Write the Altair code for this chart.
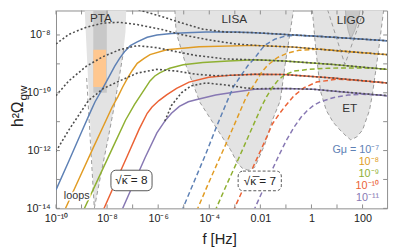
import altair as alt
import pandas as pd

# ---------------- values ----------------
# x = log10(f / Hz), y = log10(h^2 Omega_gw)
x_tick_vals = [-10, -8, -6, -4, -2, 0, 2]
x_tick_labels = ["10⁻¹⁰", "10⁻⁸", "10⁻⁶", "10⁻⁴", "0.01", "1", "100"]
y_tick_vals = [-14, -12, -10, -8]
y_tick_labels = ["10⁻¹⁴", "10⁻¹²", "10⁻¹⁰", "10⁻⁸"]
x_minor = list(range(-10, 3))
y_minor = list(range(-14, -7))

gmu_keys = ["1e-7", "1e-8", "1e-9", "1e-10", "1e-11"]
gmu_texts = ["Gμ = 10⁻⁷", "10⁻⁸", "10⁻⁹", "10⁻¹⁰", "10⁻¹¹"]
gmu_colors = ["#5e81b5", "#e19c24", "#8fb032", "#eb6235", "#8778b3"]
legend_lf = [2.65, 2.65, 2.65, 2.65, 2.65]
legend_lo = [-11.98, -12.41, -12.81, -13.22, -13.63]

# sqrt(kappa) = 8 (solid)
solid_g7 = [(-10.0, -13.36), (-9.5, -12.37), (-9.0, -11.36), (-8.66, -10.68), (-8.47, -10.31),
            (-8.16, -9.83), (-7.89, -9.39), (-7.70, -9.08), (-7.51, -8.81), (-7.32, -8.58),
            (-7.09, -8.37), (-6.82, -8.24), (-6.43, -8.08), (-6.05, -8.00), (-5.48, -7.95),
            (-4.90, -7.92), (-4.13, -7.90), (-2.98, -7.90), (-2.22, -7.92), (-0.68, -8.00),
            (0.85, -8.08), (2.96, -8.20)]
solid_g8 = [(-9.68, -14.1), (-9.12, -13.02), (-8.54, -11.90), (-8.04, -10.95), (-7.81, -10.51),
            (-7.58, -10.14), (-7.39, -9.80), (-7.20, -9.49), (-7.01, -9.22), (-6.82, -8.98),
            (-6.55, -8.81), (-6.32, -8.68), (-5.67, -8.51), (-4.40, -8.41), (-2.22, -8.36),
            (-0.68, -8.42), (1.23, -8.56), (2.96, -8.68)]
solid_g9 = [(-8.94, -14.1), (-8.35, -12.98), (-7.78, -11.90), (-7.28, -10.95), (-6.93, -10.41),
            (-6.55, -9.90), (-6.32, -9.59), (-6.13, -9.42), (-5.94, -9.31), (-5.55, -9.15),
            (-5.02, -9.03), (-4.25, -8.95), (-3.25, -8.90), (-2.22, -8.86), (-1.07, -8.90),
            (0.85, -9.02), (2.96, -9.19)]
solid_g10 = [(-8.17, -14.1), (-7.66, -13.08), (-7.20, -12.17), (-6.74, -11.25), (-6.43, -10.71),
             (-6.24, -10.49), (-5.97, -10.27), (-5.67, -10.07), (-5.28, -9.85), (-4.79, -9.63),
             (-4.02, -9.46), (-3.10, -9.39), (-2.22, -9.36), (-1.07, -9.37), (0.85, -9.49),
             (2.96, -9.66)]
solid_g11 = [(-7.44, -14.1), (-6.93, -13.08), (-6.51, -12.24), (-6.05, -11.39), (-5.74, -10.98),
             (-5.48, -10.71), (-5.17, -10.47), (-4.82, -10.31), (-4.52, -10.24), (-3.75, -10.08),
             (-2.98, -9.97), (-2.22, -9.88), (-1.07, -9.85), (0.08, -9.88), (1.23, -9.97),
             (2.96, -10.10)]

# sqrt(kappa) = 7 (dashed)
dashed_g7 = [(-5.08, -14.1), (-4.52, -12.92), (-4.13, -12.10), (-3.75, -11.25), (-3.37, -10.44),
             (-3.06, -9.80), (-2.75, -9.39), (-2.48, -9.05), (-2.22, -8.80), (-2.02, -8.56),
             (-1.83, -8.36), (-1.45, -8.15), (-1.07, -8.05), (-0.68, -8.01), (0.08, -8.03),
             (0.85, -8.08), (2.96, -8.20)]
dashed_g8 = [(-4.50, -14.1), (-4.06, -13.19), (-3.67, -12.41), (-3.29, -11.66), (-2.91, -10.88),
             (-2.60, -10.24), (-2.41, -9.93), (-2.22, -9.69), (-1.95, -9.29), (-1.72, -9.05),
             (-1.33, -8.78), (-0.95, -8.63), (-0.49, -8.53), (0.35, -8.49), (1.23, -8.56),
             (2.96, -8.68)]
dashed_g9 = [(-3.78, -14.1), (-3.29, -13.12), (-2.87, -12.31), (-2.48, -11.53), (-2.14, -10.85),
             (-1.95, -10.47), (-1.76, -10.14), (-1.56, -9.85), (-1.33, -9.59), (-1.07, -9.39),
             (-0.68, -9.25), (-0.11, -9.19), (0.66, -9.15), (1.50, -9.14), (2.39, -9.15),
             (2.96, -9.19)]
dashed_g10 = [(-3.07, -14.1), (-2.60, -13.19), (-2.22, -12.44), (-1.83, -11.69), (-1.53, -11.08),
              (-1.30, -10.78), (-1.07, -10.51), (-0.68, -10.10), (-0.30, -9.83), (0.20, -9.63),
              (0.97, -9.53), (1.89, -9.58), (2.96, -9.66)]
dashed_g11 = [(-2.27, -14.1), (-1.91, -13.39), (-1.56, -12.71), (-1.26, -12.14), (-0.99, -11.66),
              (-0.68, -11.19), (-0.41, -10.85), (-0.18, -10.63), (0.08, -10.44), (0.35, -10.31),
              (0.85, -10.17), (1.43, -10.08), (2.00, -10.05), (2.96, -10.10)]

# loops (dotted)
dotted_g7 = [(-8.16, -6.78), (-7.39, -6.97), (-6.82, -7.12), (-5.94, -7.34), (-5.17, -7.56),
             (-4.25, -7.80), (-3.37, -7.90), (-2.22, -7.92), (-0.68, -8.00), (0.85, -8.08),
             (2.96, -8.20)]
dotted_g8 = [(-10.0, -8.31), (-9.50, -7.98), (-8.81, -7.73), (-8.16, -7.59), (-7.51, -7.56),
             (-6.82, -7.64), (-5.86, -7.81), (-5.02, -8.00), (-4.02, -8.17), (-2.98, -8.31),
             (-2.02, -8.37), (-0.68, -8.42), (1.23, -8.56), (2.96, -8.68)]
dotted_g9 = [(-10.0, -10.10), (-9.50, -9.59), (-8.81, -9.08), (-8.16, -8.75), (-7.51, -8.51),
             (-6.82, -8.37), (-6.05, -8.44), (-5.28, -8.58), (-4.52, -8.71), (-3.37, -8.83),
             (-2.22, -8.86), (-1.07, -8.90), (0.85, -9.02), (2.96, -9.19)]
dotted_g10 = [(-10.0, -12.03), (-9.50, -11.29), (-8.73, -10.27), (-8.16, -9.86), (-7.51, -9.59),
              (-6.82, -9.32), (-6.05, -9.19), (-5.28, -9.25), (-4.52, -9.36), (-3.75, -9.41),
              (-2.98, -9.39), (-2.22, -9.36), (-1.07, -9.37), (0.85, -9.49), (2.96, -9.66)]
dotted_g11 = [(-5.74, -10.98), (-5.48, -10.44), (-5.09, -10.00), (-4.71, -9.76), (-4.13, -9.66),
              (-3.37, -9.73), (-2.60, -9.83), (-2.22, -9.86), (-1.07, -9.85), (0.08, -9.88),
              (1.23, -9.97), (2.96, -10.10)]

# sensitivity regions: lower boundary, region extends to the top
pta_lower = [(-8.89, -6.9), (-8.50, -14.0), (-8.24, -12.81), (-7.97, -11.63), (-7.70, -10.37),
             (-7.55, -9.59), (-7.39, -8.75), (-7.28, -7.90), (-7.24, -6.9)]
pta_edge_left = [(-8.80, -9.49), (-8.50, -14.0)]
pta_edge_right = [(-8.50, -14.0), (-8.24, -12.81), (-7.97, -11.63), (-7.70, -10.37),
                  (-7.55, -9.59), (-7.39, -8.75), (-7.34, -8.41)]
pta_dark_f = [-8.54, -8.01]
pta_dark_o = [-10.0, -6.9]
nanograv_f = [-8.54, -8.04]
nanograv_o = [-9.80, -8.51]
lisa_lower = [(-5.36, -6.9), (-5.30, -7.90), (-4.90, -9.08), (-4.36, -10.34), (-3.67, -11.29),
              (-3.17, -11.97), (-2.91, -12.41), (-2.71, -12.61), (-2.48, -12.68), (-2.22, -12.58),
              (-1.83, -11.80), (-1.53, -10.95), (-1.22, -10.27), (-1.03, -9.02), (-0.66, -6.9)]
et_lower = [(0.01, -6.9), (0.16, -8.41), (0.35, -9.93), (0.58, -10.61), (0.85, -11.02),
            (1.12, -11.29), (1.35, -11.49), (1.54, -11.63), (1.77, -11.53), (2.00, -11.29),
            (2.27, -10.61), (2.39, -10.03), (2.62, -8.58), (2.86, -6.9)]
ligo_v = [(0.55, -6.9), (1.31, -9.02), (2.15, -6.9)]
ligo_now = [(1.31, -6.9), (1.35, -7.39), (1.43, -7.83), (1.54, -8.14), (1.70, -7.83),
            (1.85, -7.39), (1.96, -6.9)]
region_top = -6.9

region_names = ["PTA", "LISA", "LIGO", "ET"]
region_lf = [-8.24, -3.02, 1.54, 1.50]
region_lo = [-7.42, -7.46, -7.49, -10.54]

box_texts = ["√κ̅ = 8", "√κ̅ = 7"]
box_f1 = [-7.85, -2.87]
box_f2 = [-6.24, -1.18]
box_o1 = [-13.39, -13.39]
box_o2 = [-12.68, -12.71]
box_text_lf = [-7.05, -2.02]
box_text_lo = [-13.03, -13.05]

loops_text = ["loops"]
loops_lf = [-9.19]
loops_lo = [-13.58]

y_title_main = "h²Ω"
y_title_sub = "gw"
x_title = "f [Hz]"

# ---------------- styling ----------------
FONT = "Liberation Sans"
W, H = 338, 202
LIGHT = "#e3e3e3"
MID = "#c8c8c8"
EDGE = "#999999"
FRAME = "#8c8c8c"
DOT = "#4d4d4d"

xscale = alt.Scale(domain=[-10, 2.96], nice=False, zero=False)
yscale = alt.Scale(domain=[-14, -7.153], nice=False, zero=False)


def lab_expr(vals, labels):
    expr = "''"
    for v, l in zip(reversed(vals), reversed(labels)):
        expr = f"datum.value == {v} ? '{l}' : ({expr})"
    return expr


xaxis = alt.Axis(values=x_tick_vals, labelExpr=lab_expr(x_tick_vals, x_tick_labels),
                 ticks=False, domain=False, grid=False, title=None, labelFontSize=11,
                 labelPadding=4, labelFont=FONT, labelColor="#222", labelFlush=False,
                 labelOverlap=False)
yaxis = alt.Axis(values=y_tick_vals, labelExpr=lab_expr(y_tick_vals, y_tick_labels),
                 ticks=False, domain=False, grid=False, title=None, labelFontSize=11,
                 labelPadding=6, labelFont=FONT, labelColor="#222", labelFlush=False,
                 labelOverlap=False)


def X(f="lf"):
    return alt.X(f + ":Q", scale=xscale, axis=xaxis)


def Y(f="lo"):
    return alt.Y(f + ":Q", scale=yscale, axis=yaxis)


def rows(points, **tags):
    return [dict(lf=p[0], lo=p[1], i=k, top=region_top, **tags) for k, p in enumerate(points)]


color_scale = alt.Scale(domain=gmu_keys, range=gmu_colors)

df_regions = pd.DataFrame(rows(pta_lower, r="pta") + rows(lisa_lower, r="lisa") + rows(et_lower, r="et"))
df_ligo_now = pd.DataFrame(rows(ligo_now, r="ligo"))
df_edges = pd.DataFrame(rows(pta_edge_left, r="a") + rows(pta_edge_right, r="b") +
                        rows(lisa_lower, r="c") + rows(et_lower, r="d") + rows(ligo_v, r="e"))
df_solid = pd.DataFrame(sum([rows(p, c=k) for k, p in zip(gmu_keys, [solid_g7, solid_g8, solid_g9, solid_g10, solid_g11])], []))
df_dashed = pd.DataFrame(sum([rows(p, c=k) for k, p in zip(gmu_keys, [dashed_g7, dashed_g8, dashed_g9, dashed_g10, dashed_g11])], []))
df_dotted = pd.DataFrame(sum([rows(p, c=k) for k, p in zip(gmu_keys, [dotted_g7, dotted_g8, dotted_g9, dotted_g10, dotted_g11])], []))

layers = []
layers.append(alt.Chart(df_regions).mark_area(color=LIGHT, opacity=1, clip=True).encode(
    x=X(), y=Y(), y2=alt.Y2("top:Q"), detail="r:N"))
layers.append(alt.Chart(pd.DataFrame({"f1": [pta_dark_f[0]], "f2": [pta_dark_f[1]],
                                      "o1": [pta_dark_o[0]], "o2": [pta_dark_o[1]]}))
              .mark_rect(color=MID, clip=True).encode(
    x=X("f1"), x2=alt.X2("f2:Q"), y=Y("o1"), y2=alt.Y2("o2:Q")))
layers.append(alt.Chart(pd.DataFrame({"f1": [nanograv_f[0]], "f2": [nanograv_f[1]],
                                      "o1": [nanograv_o[0]], "o2": [nanograv_o[1]]}))
              .mark_rect(color="#ffc78f", clip=True).encode(
    x=X("f1"), x2=alt.X2("f2:Q"), y=Y("o1"), y2=alt.Y2("o2:Q")))
layers.append(alt.Chart(df_ligo_now).mark_area(color=MID, opacity=1, clip=True,
                                               stroke="#aaaaaa", strokeWidth=0.8).encode(
    x=X(), y=Y(), y2=alt.Y2("top:Q")))
layers.append(alt.Chart(df_edges).mark_line(color=EDGE, strokeWidth=1, strokeDash=[4, 3], clip=True).encode(
    x=X(), y=Y(), detail="r:N", order="i:Q"))

layers.append(alt.Chart(df_solid).mark_line(strokeWidth=1.5, clip=True).encode(
    x=X(), y=Y(), color=alt.Color("c:N", scale=color_scale, legend=None), order="i:Q"))
layers.append(alt.Chart(df_dashed).mark_line(strokeWidth=1.5, strokeDash=[5, 3], clip=True).encode(
    x=X(), y=Y(), color=alt.Color("c:N", scale=color_scale, legend=None), order="i:Q"))
layers.append(alt.Chart(df_dotted).mark_line(strokeWidth=1.6, strokeDash=[2, 2.2], color=DOT, clip=True).encode(
    x=X(), y=Y(), detail="c:N", order="i:Q"))

df_box = pd.DataFrame({"f1": box_f1, "f2": box_f2, "o1": box_o1, "o2": box_o2,
                       "t": box_texts, "tf": box_text_lf, "to": box_text_lo})
layers.append(alt.Chart(df_box.iloc[[0]]).mark_rect(cornerRadius=5, fill="white", stroke="#555",
                                                    strokeWidth=1).encode(
    x=X("f1"), x2=alt.X2("f2:Q"), y=Y("o1"), y2=alt.Y2("o2:Q")))
layers.append(alt.Chart(df_box.iloc[[1]]).mark_rect(cornerRadius=5, fill="white", stroke="#555",
                                                    strokeWidth=1, strokeDash=[3, 2]).encode(
    x=X("f1"), x2=alt.X2("f2:Q"), y=Y("o1"), y2=alt.Y2("o2:Q")))
layers.append(alt.Chart(df_box).mark_text(font=FONT, fontSize=12, color="#222", baseline="middle").encode(
    x=X("tf"), y=Y("to"), text="t:N"))

df_reg_txt = pd.DataFrame({"lf": region_lf, "lo": region_lo, "t": region_names})
layers.append(alt.Chart(df_reg_txt).mark_text(font=FONT, fontSize=12, color="#333", baseline="middle").encode(
    x=X(), y=Y(), text="t:N"))

df_loops = pd.DataFrame({"lf": loops_lf, "lo": loops_lo, "t": loops_text})
layers.append(alt.Chart(df_loops).mark_text(font=FONT, fontSize=11, stroke="white", strokeWidth=3,
                                            color="white", baseline="middle").encode(
    x=X(), y=Y(), text="t:N"))
layers.append(alt.Chart(df_loops).mark_text(font=FONT, fontSize=11, color="#333", baseline="middle").encode(
    x=X(), y=Y(), text="t:N"))

df_leg = pd.DataFrame({"lf": legend_lf, "lo": legend_lo, "t": gmu_texts, "c": gmu_keys})
layers.append(alt.Chart(df_leg).mark_text(font=FONT, fontSize=11, align="right", baseline="middle").encode(
    x=X(), y=Y(), text="t:N", color=alt.Color("c:N", scale=color_scale, legend=None)))

# inward ticks on all four sides
dfx = pd.DataFrame({"t": x_minor})
dfy = pd.DataFrame({"t": y_minor})
layers.append(alt.Chart(dfx).mark_rule(color=FRAME, strokeWidth=1).encode(
    x=X("t"), y=alt.value(H), y2=alt.value(H - 4)))
layers.append(alt.Chart(dfx).mark_rule(color=FRAME, strokeWidth=1).encode(
    x=X("t"), y=alt.value(0), y2=alt.value(4)))
layers.append(alt.Chart(dfy).mark_rule(color=FRAME, strokeWidth=1).encode(
    y=Y("t"), x=alt.value(0), x2=alt.value(4)))
layers.append(alt.Chart(dfy).mark_rule(color=FRAME, strokeWidth=1).encode(
    y=Y("t"), x=alt.value(W), x2=alt.value(W - 4)))

# axis titles
layers.append(alt.Chart(pd.DataFrame({"t": [y_title_main]})).mark_text(
    font=FONT, fontSize=16, angle=270, align="left", baseline="alphabetic", color="#222").encode(
    x=alt.value(-34), y=alt.value(119), text="t:N"))
layers.append(alt.Chart(pd.DataFrame({"t": [y_title_sub]})).mark_text(
    font=FONT, fontSize=12, angle=270, align="left", baseline="alphabetic", color="#222").encode(
    x=alt.value(-30), y=alt.value(92), text="t:N"))
layers.append(alt.Chart(pd.DataFrame({"t": [x_title]})).mark_text(
    font=FONT, fontSize=15, align="center", baseline="alphabetic", color="#222").encode(
    x=alt.value(167), y=alt.value(238), text="t:N"))

chart = alt.layer(*layers).properties(
    width=W, height=H,
    autosize=alt.AutoSizeParams(type="none"),
    padding={"left": 49, "top": 0, "right": 4, "bottom": 42},
).configure(font=FONT).configure_view(stroke=FRAME, strokeWidth=1)

chart.save("out.html", embed_options={"renderer": "svg", "actions": False})
